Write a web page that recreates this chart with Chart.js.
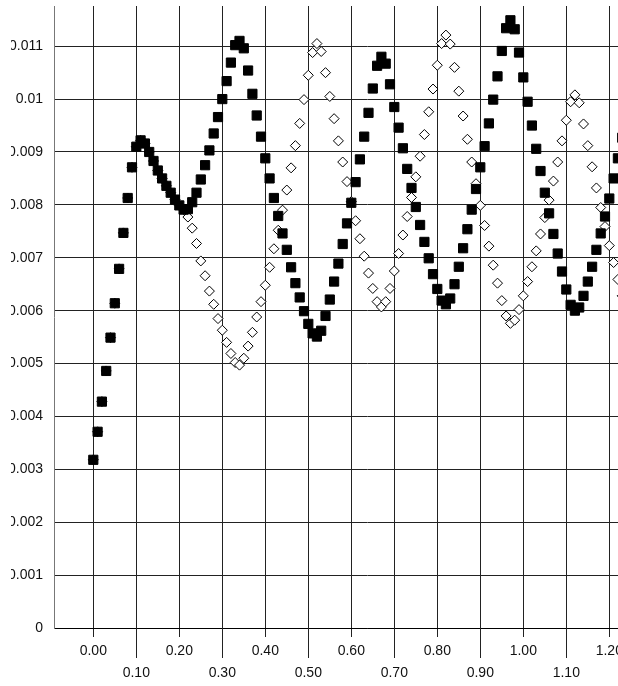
<!DOCTYPE html>
<html>
<head>
<meta charset="utf-8">
<script src="https://cdn.jsdelivr.net/npm/chart.js@4/dist/chart.umd.min.js"></script>
<style>
  html, body { margin: 0; padding: 0; background: #fff; overflow: hidden; }
  #clip { position: absolute; left: 11px; top: 0; width: 607px; height: 686px; overflow: hidden; }
  #inner { position: absolute; left: -11px; top: 0; width: 700px; height: 686px; }
</style>
</head>
<body>
<div id="clip"><div id="inner"><canvas id="chart" width="700" height="686"></canvas></div></div>
<script>
// x positions of the samples
const xValues = [
    0.00, 0.01, 0.02, 0.03, 0.04, 0.05, 0.06, 0.07, 0.08, 0.09,
    0.10, 0.11, 0.12, 0.13, 0.14, 0.15, 0.16, 0.17, 0.18, 0.19,
    0.20, 0.21, 0.22, 0.23, 0.24, 0.25, 0.26, 0.27, 0.28, 0.29,
    0.30, 0.31, 0.32, 0.33, 0.34, 0.35, 0.36, 0.37, 0.38, 0.39,
    0.40, 0.41, 0.42, 0.43, 0.44, 0.45, 0.46, 0.47, 0.48, 0.49,
    0.50, 0.51, 0.52, 0.53, 0.54, 0.55, 0.56, 0.57, 0.58, 0.59,
    0.60, 0.61, 0.62, 0.63, 0.64, 0.65, 0.66, 0.67, 0.68, 0.69,
    0.70, 0.71, 0.72, 0.73, 0.74, 0.75, 0.76, 0.77, 0.78, 0.79,
    0.80, 0.81, 0.82, 0.83, 0.84, 0.85, 0.86, 0.87, 0.88, 0.89,
    0.90, 0.91, 0.92, 0.93, 0.94, 0.95, 0.96, 0.97, 0.98, 0.99,
    1.00, 1.01, 1.02, 1.03, 1.04, 1.05, 1.06, 1.07, 1.08, 1.09,
    1.10, 1.11, 1.12, 1.13, 1.14, 1.15, 1.16, 1.17, 1.18, 1.19,
    1.20, 1.21, 1.22, 1.23
];

// filled squares
const squareValues = [
    0.00318, 0.00371, 0.00428, 0.00486, 0.00549, 0.00614, 0.00679, 0.00747, 0.00813, 0.00871,
    0.00910, 0.00922, 0.00916, 0.00900, 0.00883, 0.00865, 0.00850, 0.00836, 0.00823, 0.00810,
    0.00799, 0.00791, 0.00792, 0.00805, 0.00823, 0.00848, 0.00875, 0.00903, 0.00935, 0.00966,
    0.01000, 0.01034, 0.01069, 0.01102, 0.01110, 0.01096, 0.01054, 0.01010, 0.00969, 0.00929,
    0.00888, 0.00850, 0.00813, 0.00779, 0.00746, 0.00715, 0.00682, 0.00652, 0.00625, 0.00599,
    0.00575, 0.00557, 0.00551, 0.00562, 0.00590, 0.00621, 0.00655, 0.00689, 0.00726, 0.00765,
    0.00804, 0.00843, 0.00886, 0.00929, 0.00974, 0.01020, 0.01063, 0.01080, 0.01067, 0.01028,
    0.00985, 0.00946, 0.00907, 0.00868, 0.00832, 0.00796, 0.00762, 0.00730, 0.00699, 0.00669,
    0.00641, 0.00619, 0.00612, 0.00623, 0.00650, 0.00683, 0.00718, 0.00754, 0.00791, 0.00830,
    0.00871, 0.00911, 0.00954, 0.00999, 0.01043, 0.01091, 0.01134, 0.01149, 0.01132, 0.01088,
    0.01041, 0.00995, 0.00950, 0.00906, 0.00864, 0.00823, 0.00784, 0.00745, 0.00708, 0.00674,
    0.00640, 0.00611, 0.00600, 0.00606, 0.00628, 0.00655, 0.00683, 0.00715, 0.00746, 0.00778,
    0.00812, 0.00850, 0.00888, 0.00927
];

// hollow diamonds (first points lie under the squares)
const diamondValues = [
    0.00318, 0.00371, 0.00428, 0.00486, 0.00549, 0.00614, 0.00679, 0.00747, 0.00813, 0.00871,
    0.00910, 0.00922, 0.00916, 0.00900, 0.00883, 0.00865, 0.00850, 0.00836, 0.00823, 0.00810,
    0.00799, 0.00791, 0.00777, 0.00756, 0.00727, 0.00694, 0.00666, 0.00637, 0.00612, 0.00585,
    0.00563, 0.00540, 0.00519, 0.00502, 0.00497, 0.00510, 0.00533, 0.00559, 0.00588, 0.00617,
    0.00648, 0.00682, 0.00717, 0.00752, 0.00790, 0.00828, 0.00870, 0.00912, 0.00954, 0.00999,
    0.01045, 0.01088, 0.01105, 0.01090, 0.01050, 0.01005, 0.00963, 0.00921, 0.00881, 0.00844,
    0.00806, 0.00770, 0.00736, 0.00703, 0.00671, 0.00642, 0.00617, 0.00607, 0.00617, 0.00642,
    0.00675, 0.00708, 0.00743, 0.00778, 0.00814, 0.00853, 0.00892, 0.00933, 0.00976, 0.01019,
    0.01064, 0.01105, 0.01121, 0.01104, 0.01060, 0.01015, 0.00968, 0.00924, 0.00881, 0.00840,
    0.00799, 0.00761, 0.00722, 0.00686, 0.00652, 0.00619, 0.00590, 0.00576, 0.00582, 0.00602,
    0.00628, 0.00655, 0.00683, 0.00713, 0.00745, 0.00776, 0.00809, 0.00845, 0.00881, 0.00921,
    0.00960, 0.00995, 0.01008, 0.00993, 0.00953, 0.00912, 0.00872, 0.00832, 0.00795, 0.00759,
    0.00723, 0.00691, 0.00659, 0.00628
];

// axis ticks
const xTickValues = [0, 0.1, 0.2, 0.3, 0.4, 0.5, 0.6, 0.7, 0.8, 0.9, 1.0, 1.1, 1.2, 1.3];
const yTickValues = [0, 0.001, 0.002, 0.003, 0.004, 0.005, 0.006, 0.007, 0.008, 0.009, 0.01, 0.011];

const gridColor = '#222';
const labelFont = { family: "'Liberation Sans', Arial, sans-serif", size: 14 };

const squarePoints = xValues.map((x, i) => ({ x: x, y: squareValues[i] }));
const diamondPoints = xValues.map((x, i) => ({ x: x, y: diamondValues[i] }));

// odd x ticks (0.10, 0.30 ...) get a long tick mark down to the second label row
const longTicks = {
    id: 'longTicks',
    afterDraw(chart) {
        const xs = chart.scales.x;
        const ctx = chart.ctx;
        const bottom = chart.chartArea.bottom;
        ctx.save();
        ctx.strokeStyle = gridColor;
        ctx.lineWidth = 1;
        xs.ticks.forEach(t => {
            if (Math.round(t.value * 10) % 2 !== 0) {
                const px = Math.round(xs.getPixelForValue(t.value)) + 0.5;
                ctx.beginPath();
                ctx.moveTo(px, bottom);
                ctx.lineTo(px, bottom + 30);
                ctx.stroke();
            }
        });
        ctx.restore();
    }
};

new Chart(document.getElementById('chart'), {
    type: 'scatter',
    data: {
        datasets: [
            {
                label: 'squares',
                data: squarePoints,
                pointStyle: 'rect',
                pointRadius: 6.5,
                backgroundColor: '#000',
                borderColor: '#000',
                borderWidth: 1
            },
            {
                label: 'diamonds',
                data: diamondPoints,
                pointStyle: 'rectRot',
                pointRadius: 5,
                backgroundColor: '#fff',
                borderColor: '#000',
                borderWidth: 1
            }
        ]
    },
    options: {
        responsive: false,
        animation: false,
        layout: { autoPadding: false, padding: { top: 6, left: 0, right: 20, bottom: 0 } },
        plugins: {
            legend: { display: false },
            tooltip: { enabled: false }
        },
        scales: {
            x: {
                type: 'linear',
                min: -0.0914,
                max: 1.3644,
                afterBuildTicks: axis => { axis.ticks = xTickValues.map(v => ({ value: v })); },
                afterFit: axis => { axis.height = 58; },
                grid: { color: gridColor, lineWidth: 1, drawTicks: true, tickLength: 9, tickColor: gridColor },
                border: { display: true, color: '#000' },
                ticks: {
                    autoSkip: false,
                    maxRotation: 0,
                    padding: 3,
                    color: '#111',
                    font: { ...labelFont, lineHeight: '22px' },
                    callback: value => {
                        const text = value.toFixed(2);
                        return Math.round(value * 10) % 2 !== 0 ? ['', text] : text;
                    }
                }
            },
            y: {
                type: 'linear',
                min: 0,
                max: 0.01176,
                afterBuildTicks: axis => { axis.ticks = yTickValues.map(v => ({ value: v })); },
                afterFit: axis => {
                    axis.width = 54;
                    axis.paddingTop = 0;
                    axis.paddingBottom = 0;
                },
                grid: { color: gridColor, lineWidth: 1, drawTicks: false },
                border: { display: true, color: '#777' },
                ticks: {
                    padding: 11,
                    color: '#111',
                    font: labelFont,
                    callback: value => String(Number(value.toFixed(3)))
                }
            }
        }
    },
    plugins: [longTicks]
});
</script>
</body>
</html>
